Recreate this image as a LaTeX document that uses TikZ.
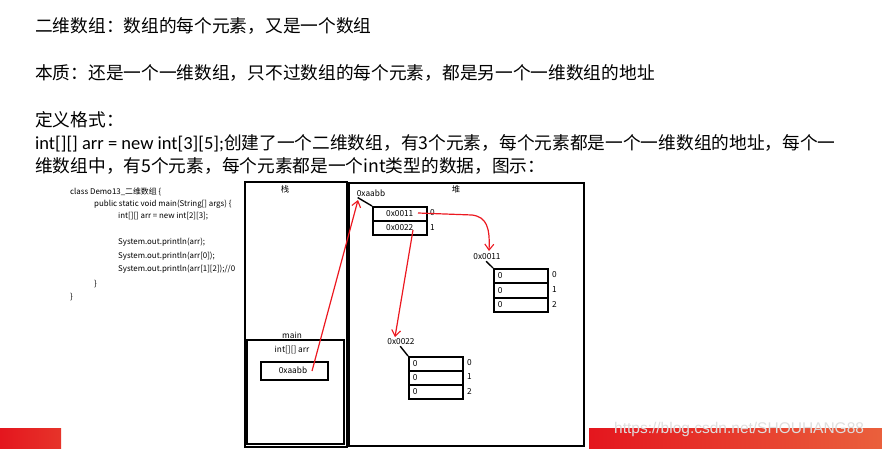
\documentclass[tikz,border=0pt]{standalone}
\usepackage{fontspec}
\setmainfont{Noto Sans CJK SC}
\newfontfamily\wmfont{Liberation Sans}
\newfontfamily\latfont{Carlito}
\usetikzlibrary{arrows.meta}
\definecolor{arrred}{RGB}{236,24,32}
\definecolor{barA}{RGB}{228,22,30}
\definecolor{barB}{RGB}{234,96,60}
\definecolor{wmgray}{RGB}{222,222,222}
\tikzset{
  bigtext/.style={anchor=west, inner sep=0pt, font=\fontsize{17.7}{20}\selectfont},
  codetext/.style={anchor=west, inner sep=0pt, font=\fontsize{7.9}{9}\selectfont},
  small/.style={inner sep=0pt, font=\fontsize{8.3}{9}\selectfont},
  frame/.style={draw, line width=1.5pt, anchor=north west, inner sep=0pt},
  cell/.style={draw, line width=1.5pt, anchor=north west, minimum width=54pt, minimum height=14pt,
    text width=46pt, align=left, inner xsep=4pt, inner ysep=0pt, font=\fontsize{8.3}{9}\selectfont},
  tick/.style={line width=1.4pt},
  redarrow/.style={draw=arrred, line width=1.2pt, -{Straight Barb[length=6pt,width=9pt,line width=1.1pt]}}
}
\begin{document}
\begin{tikzpicture}[x=1pt,y=-1pt]
\useasboundingbox (0,0) rectangle (882,449);
% heading text
\node[bigtext] (t1) at (35,26) {二维数组：数组的每个元素，又是一个数组};
\node[bigtext] (t2) at (35,73) {本质：还是一个一维数组，只不过数组的每个元素，都是另一个一维数组的地址};
\node[bigtext] (t3) at (35,120) {定义格式：};
\node[bigtext] (t4) at (35,143) {{\latfont\fontsize{18.5}{20}\selectfont int[][] arr = new int[3][5];}创建了一个二维数组，有3个元素，每个元素都是一个一维数组的地址，每个一};
\node[bigtext] (t5) at (35,166) {维数组中，有5个元素，每个元素都是一个int类型的数据，图示：};
% code
\node[codetext] (c1) at (70,192) {class Demo13\_二维数组 \{};
\node[codetext] (c2) at (94,204) {public static void main(String[] args) \{};
\node[codetext] (c3) at (118,216) {int[][] arr = new int[2][3];};
\node[codetext] (c4) at (118,242) {System.out.println(arr);};
\node[codetext] (c5) at (118,256) {System.out.println(arr[0]);};
\node[codetext] (c6) at (118,269) {System.out.println(arr[1][2]);//0};
\node[codetext] (c7) at (94,284) {\}};
\node[codetext] (c8) at (70,297) {\}};
% stack
\node[frame, minimum width=102pt, minimum height=265pt] (stack) at (244,181) {};
\node[small] (stacklbl) at (285,189) {栈};
\node[frame, minimum width=97pt, minimum height=104pt] (mainf) at (246,339) {};
\node[small] (mainlbl) at (292,335) {main};
\node[small] (arrlbl) at (292,350) {int[][] arr};
\node[frame, minimum width=67pt, minimum height=18pt] (svar) at (260,361) {};
\node[small] (svartxt) at (293,370) {0xaabb};
% heap
\node[frame, minimum width=235pt, minimum height=263pt] (heap) at (348,182) {};
\node[small] (heaplbl) at (456,189) {堆};
% outer array
\node[small] (lblA) at (371,193) {0xaabb};
\node[cell, align=center] (a0) at (372,206) {0x0011};
\node[cell, align=center] (a1) at (372,220) {0x0022};
\node[small, anchor=west] (ia0) at (430,213) {0};
\node[small, anchor=west] (ia1) at (430,228) {1};
\draw[tick] (lblA.south west) ++(1,1) coordinate (kA) -- (a0.north west);
% array 0x0011
\node[small] (lblB) at (487,257) {0x0011};
\node[cell] (b0) at (493,268) {0};
\node[cell] (b1) at (493,282.5) {0};
\node[cell] (b2) at (493,297) {0};
\node[small, anchor=west] (ib0) at (552,275) {0};
\node[small, anchor=west] (ib1) at (552,290) {1};
\node[small, anchor=west] (ib2) at (552,304) {2};
\draw[tick] (lblB.south west) ++(13,1) coordinate (kB) -- (b0.north west);
% array 0x0022
\node[small] (lblC) at (401,342) {0x0022};
\node[cell] (d0) at (408,356) {0};
\node[cell] (d1) at (408,370) {0};
\node[cell] (d2) at (408,384) {0};
\node[small, anchor=west] (id0) at (467,363) {0};
\node[small, anchor=west] (id1) at (467,377) {1};
\node[small, anchor=west] (id2) at (467,391) {2};
\draw[tick] (lblC.south west) ++(13,1) coordinate (kC) -- (d0.north west);
% red arrows
\coordinate (s1) at (312,371);
\coordinate (e1) at (358,200);
\draw[redarrow] (s1) -- (e1);
\coordinate (s2) at (418,213);
\coordinate (e2) at (489,251);
\draw[redarrow] (s2) -- (472,215) .. controls (487,217) and (490,228) .. (e2);
\coordinate (s3) at (413,230);
\coordinate (e3) at (395,337);
\draw[redarrow] (s3) -- (e3);
% bottom bars
\shade[left color=barA, right color=barA!60!barB] (0,428) rectangle (61,449);
\shade[left color=barA, right color=barB] (589,428) rectangle (882,449);
\node[anchor=west, inner sep=0pt, text=wmgray, font=\wmfont\fontsize{15.5}{16}\selectfont] (wm) at (614,429) {https://blog.csdn.net/SHOUHANG88};
\end{tikzpicture}
\end{document}
